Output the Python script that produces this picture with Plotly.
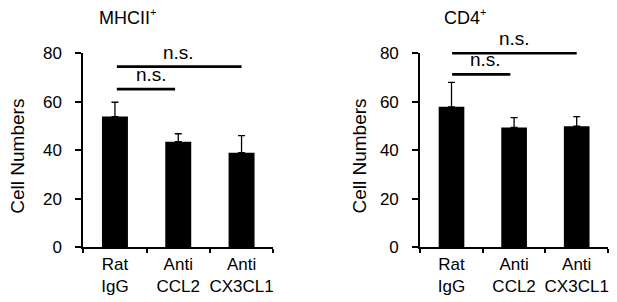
import plotly.graph_objects as go

# ---------------- data ----------------
categories = ["Rat<br>IgG", "Anti<br>CCL2", "Anti<br>CX3CL1"]
mhcii_means = [53.9, 43.5, 39.0]
mhcii_err = [5.9, 3.3, 7.0]
cd4_means = [57.9, 49.4, 49.9]
cd4_err = [10.1, 4.1, 4.0]
y_ticks = [0, 20, 40, 60, 80]
panel_titles = ["MHCII<sup><span style='font-size:11px'>+</span></sup>",
                "CD4<sup><span style='font-size:11px'>+</span></sup>"]
y_title = "Cell Numbers"
sig_label = "n.s."
# significance brackets: (x_start, x_end, level, label_x)
mhcii_sig = [(0.03, 2.0, 74.5, 1.0), (0.03, 0.95, 65.2, 0.57)]
cd4_sig = [(0.01, 2.0, 80.0, 1.0), (0.01, 0.94, 71.3, 0.55)]

Y_MAX = y_ticks[-1]
FONT = "Liberation Sans, Arial, Helvetica, sans-serif"
PAGE_OFF = 8            # default body margin of the html page
W, H = 617 - PAGE_OFF, 302 - PAGE_OFF


def px_x(sx):
    return (sx - PAGE_OFF) / W


def px_y(sy):
    return (H - (sy - PAGE_OFF)) / H


fig = go.Figure()

for means, errs, xa, ya in [(mhcii_means, mhcii_err, "x", "y"), (cd4_means, cd4_err, "x2", "y2")]:
    fig.add_trace(go.Bar(
        x=categories, y=means, xaxis=xa, yaxis=ya,
        width=0.41,
        marker=dict(color="black", line=dict(width=0)),
        error_y=dict(type="data", symmetric=False, array=errs, arrayminus=[0] * len(errs),
                     color="black", thickness=1.3, width=3.5),
        hoverinfo="skip",
    ))

xcommon = dict(type="category", range=[-0.5, 2.5], showline=True, linecolor="black", linewidth=2,
               ticks="outside", tickson="boundaries", ticklen=4, tickwidth=2, tickcolor="black",
               tickangle=0, automargin=False,
               tickfont=dict(size=17, color="black", family=FONT), showgrid=False, zeroline=False)
ycommon = dict(range=[0, Y_MAX], tickmode="array", tickvals=y_ticks, showline=True, linecolor="black",
               linewidth=2, ticks="outside", ticklen=6, tickwidth=2, tickcolor="black", automargin=False,
               tickfont=dict(size=17, color="black", family=FONT), showgrid=False, zeroline=False,
               ticklabelstandoff=10)

ydom = [px_y(247.2), px_y(53.3)]
fig.update_layout(
    width=W, height=H, margin=dict(l=0, r=0, t=0, b=0),
    paper_bgcolor="white", plot_bgcolor="white", showlegend=False,
    font=dict(family=FONT, color="black"),
    xaxis=dict(xcommon, domain=[px_x(83.3), px_x(273.2)], anchor="y"),
    yaxis=dict(ycommon, domain=ydom, anchor="x"),
    xaxis2=dict(xcommon, domain=[px_x(420.2), px_x(608)], anchor="y2"),
    yaxis2=dict(ycommon, domain=ydom, anchor="x2"),
)

shapes = []
annotations = []
for sig, xa, ya in [(mhcii_sig, "x", "y"), (cd4_sig, "x2", "y2")]:
    for x0, x1, lvl, lx in sig:
        shapes.append(dict(type="line", xref=xa, yref=ya + " domain", x0=x0, x1=x1,
                           y0=lvl / Y_MAX, y1=lvl / Y_MAX, line=dict(color="black", width=2.6)))
        annotations.append(dict(text=sig_label, xref=xa, yref=ya, x=lx, y=lvl, xanchor="center",
                                yanchor="bottom", yshift=2, showarrow=False,
                                font=dict(size=19, color="black", family=FONT)))

# panel titles
for t, sx in zip(panel_titles, [96.7, 441.7]):
    annotations.append(dict(text=t, xref="paper", yref="paper", x=px_x(sx), y=px_y(17),
                            xanchor="left", yanchor="middle", showarrow=False,
                            font=dict(size=18, color="black", family=FONT)))
# y-axis titles
for sx in [16.7, 358.5]:
    annotations.append(dict(text=y_title, xref="paper", yref="paper", x=px_x(sx), y=px_y(156),
                            xanchor="center", yanchor="middle", textangle=-90, showarrow=False,
                            font=dict(size=19, color="black", family=FONT)))

fig.update_layout(shapes=shapes, annotations=annotations)
fig.write_html("out.html")
